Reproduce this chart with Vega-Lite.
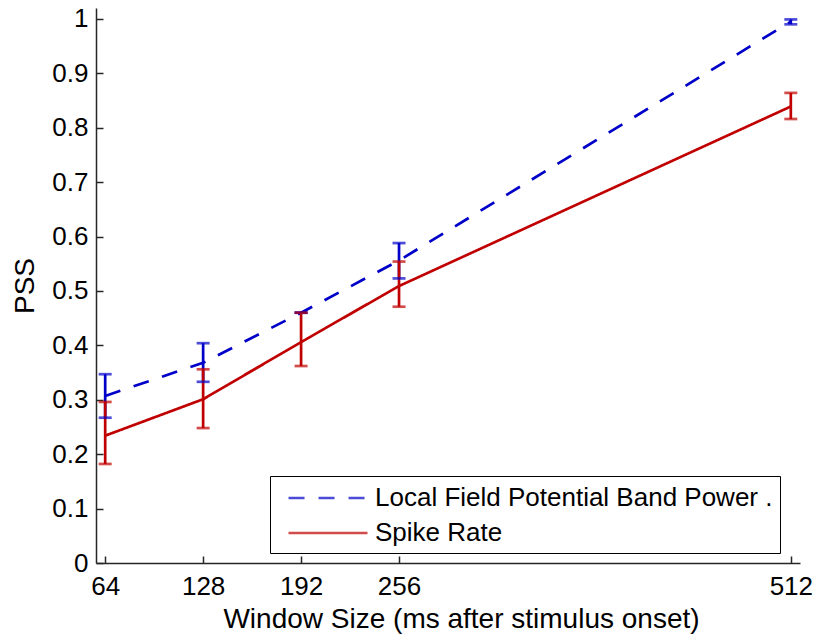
{
  "$schema": "https://vega.github.io/schema/vega-lite/v6.json",
  "width": 704,
  "height": 555,
  "autosize": "none",
  "padding": {"left": 96, "top": 8, "right": 17, "bottom": 71},
  "background": "white",
  "config": {
    "view": {"stroke": null},
    "font": "Liberation Sans",
    "axis": {
      "grid": false,
      "domainColor": "#262626",
      "domainWidth": 1.5,
      "tickColor": "#262626",
      "tickWidth": 1.5,
      "tickSize": -7,
      "labelFont": "Liberation Sans",
      "labelFontSize": 26,
      "labelColor": "#000",
      "titleFont": "Liberation Sans",
      "titleFontSize": 28,
      "titleFontWeight": "normal",
      "titleColor": "#000"
    }
  },
  "data": {
    "values": [
      {"series": "Local Field Potential Band Power .", "window": 64, "pss": 0.307, "lo": 0.267, "hi": 0.347},
      {"series": "Local Field Potential Band Power .", "window": 128, "pss": 0.368, "lo": 0.333, "hi": 0.404},
      {"series": "Local Field Potential Band Power .", "window": 192, "pss": 0.46, "lo": 0.46, "hi": 0.46},
      {"series": "Local Field Potential Band Power .", "window": 256, "pss": 0.556, "lo": 0.523, "hi": 0.588},
      {"series": "Local Field Potential Band Power .", "window": 512, "pss": 0.995, "lo": 0.99, "hi": 0.999},
      {"series": "Spike Rate", "window": 64, "pss": 0.234, "lo": 0.182, "hi": 0.296},
      {"series": "Spike Rate", "window": 128, "pss": 0.301, "lo": 0.248, "hi": 0.356},
      {"series": "Spike Rate", "window": 192, "pss": 0.406, "lo": 0.362, "hi": 0.46},
      {"series": "Spike Rate", "window": 256, "pss": 0.509, "lo": 0.471, "hi": 0.554},
      {"series": "Spike Rate", "window": 512, "pss": 0.839, "lo": 0.816, "hi": 0.864}
    ]
  },
  "layer": [
    {
      "mark": {"type": "line", "strokeWidth": 2.7},
      "encoding": {
        "x": {
          "field": "window", "type": "quantitative",
          "scale": {"domain": [58, 518], "nice": false, "zero": false},
          "axis": {
            "values": [64, 128, 192, 256, 512], "format": "d",
            "labelPadding": 17,
            "title": "Window Size (ms after stimulus onset)",
            "titleX": 365, "titleY": 64, "titleBaseline": "alphabetic", "titleAnchor": "middle", "titleAlign": "center"
          }
        },
        "y": {
          "field": "pss", "type": "quantitative",
          "scale": {"domain": [0, 1.02], "nice": false},
          "axis": {
            "values": [0, 0.1, 0.2, 0.3, 0.4, 0.5, 0.6, 0.7, 0.8, 0.9, 1], "format": ".1~f",
            "labelPadding": 15,
            "title": "PSS",
            "titleX": -62.5, "titleY": 277.5, "titleBaseline": "alphabetic", "titleAngle": -90, "titleAlign": "center"
          }
        },
        "color": {
          "field": "series", "type": "nominal",
          "scale": {"domain": ["Local Field Potential Band Power .", "Spike Rate"], "range": ["#0000c8", "#c00000"]},
          "legend": {
            "orient": "none", "legendX": 174, "legendY": 468, "title": null,
            "padding": 7, "symbolOffset": 36, "strokeColor": "#000", "fillColor": "#fff",
            "labelFont": "Liberation Sans", "labelFontSize": 26, "labelColor": "#000", "labelLimit": 0,
            "symbolType": "M-3,0H3", "symbolSize": 693, "symbolStrokeWidth": 2.7,
            "labelOffset": 32, "rowPadding": 7
          }
        },
        "strokeDash": {
          "field": "series", "type": "nominal",
          "scale": {"domain": ["Local Field Potential Band Power .", "Spike Rate"], "range": [[16, 14], [1, 0]]},
          "legend": {
            "orient": "none", "legendX": 174, "legendY": 468, "title": null,
            "padding": 7, "symbolOffset": 36, "strokeColor": "#000", "fillColor": "#fff",
            "labelFont": "Liberation Sans", "labelFontSize": 26, "labelColor": "#000", "labelLimit": 0,
            "symbolType": "M-3,0H3", "symbolSize": 693, "symbolStrokeWidth": 2.7,
            "labelOffset": 32, "rowPadding": 7
          }
        }
      }
    },
    {
      "mark": {"type": "rule", "strokeWidth": 2.7},
      "encoding": {
        "x": {"field": "window", "type": "quantitative"},
        "y": {"field": "lo", "type": "quantitative"},
        "y2": {"field": "hi"},
        "color": {"field": "series", "type": "nominal"}
      }
    },
    {
      "mark": {"type": "tick", "orient": "horizontal", "size": 13, "thickness": 2.7},
      "encoding": {
        "x": {"field": "window", "type": "quantitative"},
        "y": {"field": "lo", "type": "quantitative"},
        "color": {"field": "series", "type": "nominal"}
      }
    },
    {
      "mark": {"type": "tick", "orient": "horizontal", "size": 13, "thickness": 2.7},
      "encoding": {
        "x": {"field": "window", "type": "quantitative"},
        "y": {"field": "hi", "type": "quantitative"},
        "color": {"field": "series", "type": "nominal"}
      }
    }
  ]
}
